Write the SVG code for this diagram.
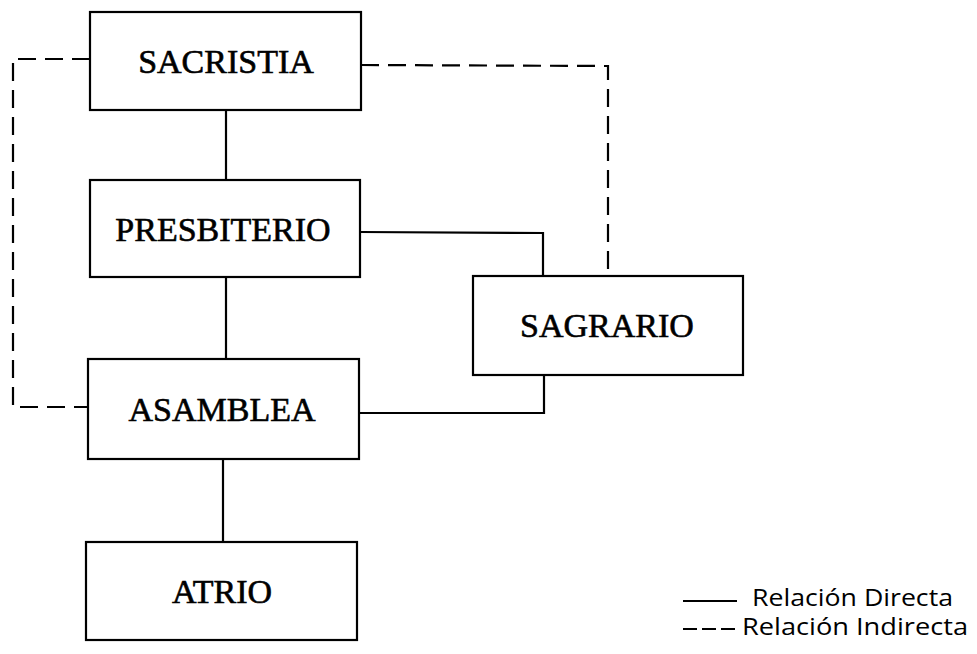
<svg xmlns="http://www.w3.org/2000/svg" width="977" height="654" viewBox="0 0 977 654">
<style>
.box{fill:#fff;stroke:#000;stroke-width:2.2}
.lbl{font-family:"Liberation Serif","Times New Roman",serif;font-size:34px;fill:#000;text-anchor:middle;stroke:#000;stroke-width:0.6}
.solid{fill:none;stroke:#000;stroke-width:2.2}
.dash{fill:none;stroke:#000;stroke-width:2.2;stroke-dasharray:18 9}
.leg{font-family:"Open Sans","Noto Sans",sans-serif;font-size:23px;fill:#000}
</style>
<rect width="977" height="654" fill="#fff"/>
<g id="connectors">
<line class="solid" x1="226" y1="110" x2="226" y2="180"/>
<line class="solid" x1="226" y1="277" x2="226" y2="359"/>
<line class="solid" x1="223" y1="459" x2="223" y2="542"/>
<polyline class="solid" points="360,232 543,233 543,276"/>
<polyline class="solid" points="358,413 544,413 544,375"/>
<polyline class="dash" points="361,65 608,66 608,276"/>
<polyline class="dash" points="90,59 13,59 13,407 88,407"/>
</g>
<g id="sacristia">
<rect class="box" x="90" y="12" width="271" height="98"/>
<text class="lbl" x="226" y="73">SACRISTIA</text>
</g>
<g id="presbiterio">
<rect class="box" x="90" y="180" width="270" height="97"/>
<text class="lbl" x="223" y="241">PRESBITERIO</text>
</g>
<g id="sagrario">
<rect class="box" x="473" y="276" width="270" height="99"/>
<text class="lbl" x="607" y="337">SAGRARIO</text>
</g>
<g id="asamblea">
<rect class="box" x="88" y="359" width="271" height="100"/>
<text class="lbl" x="222" y="421">ASAMBLEA</text>
</g>
<g id="atrio">
<rect class="box" x="86" y="542" width="271" height="98"/>
<text class="lbl" x="222" y="603">ATRIO</text>
</g>
<g id="legend">
<line class="solid" x1="683" y1="601" x2="737" y2="601"/>
<text class="leg" x="752" y="606" textLength="201" lengthAdjust="spacingAndGlyphs">Relación Directa</text>
<line class="dash" x1="683" y1="629" x2="739" y2="629" style="stroke-dasharray:14 5"/>
<text class="leg" x="742" y="635" textLength="226" lengthAdjust="spacingAndGlyphs">Relación Indirecta</text>
</g>
</svg>
